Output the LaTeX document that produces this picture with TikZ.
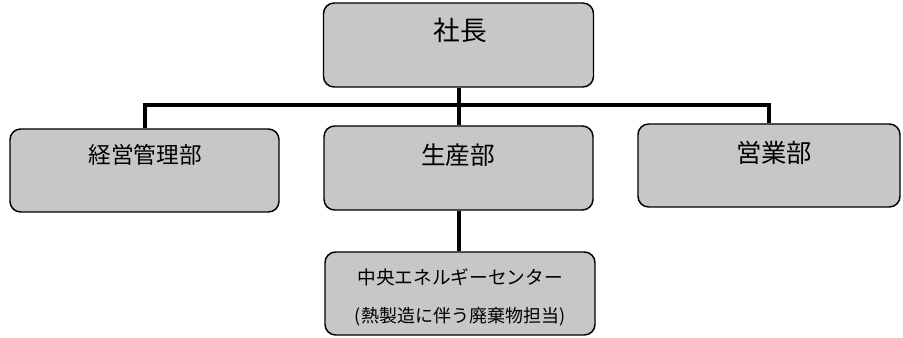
\documentclass[tikz,border=0pt]{standalone}
\usepackage{fontspec}
\newfontfamily\jpfont{Noto Sans CJK JP}
\begin{document}
\begin{tikzpicture}[x=0.75pt,y=0.75pt,yscale=-1,xscale=1,
  box/.style={draw=black,line width=1.1pt,fill=black!22,rounded corners=8pt,inner sep=0pt},
  link/.style={line width=3pt,line cap=butt},
  label/.style={font=\jpfont,text=black}]
\useasboundingbox (0,0) rectangle (903,338);

%Shape: Rounded Rectangle
\node (ceo) [box,minimum width=270*0.75pt,minimum height=84*0.75pt] at (458.5,45) {};
\node (keiei) [box,minimum width=269*0.75pt,minimum height=83*0.75pt] at (144.5,170.5) {};
\node (seisan) [box,minimum width=269*0.75pt,minimum height=84*0.75pt] at (458.5,168) {};
\node (eigyo) [box,minimum width=262*0.75pt,minimum height=83*0.75pt] at (769,165.5) {};
\node (chuo) [box,minimum width=270*0.75pt,minimum height=83*0.75pt] at (460,293.5) {};

%Straight Lines
\coordinate (bus) at (458.5,105);
\draw [link] (keiei.north) |- (bus) -| (eigyo.north);
\draw [link] (ceo.south) -- (seisan.north);
\draw [link] (seisan.south) -- (seisan.south |- chuo.north);

% Text Node
\node (ceo text) [label,font=\jpfont\fontsize{20}{24}\selectfont] at (460,30) {社長};
% Text Node
\node (keiei text) [label,font=\jpfont\fontsize{17}{20}\selectfont] at (145,155) {経営管理部};
% Text Node
\node (seisan text) [label,font=\jpfont\fontsize{18.5}{22}\selectfont] at (458,155) {生産部};
% Text Node
\node (eigyo text) [label,font=\jpfont\fontsize{19}{22}\selectfont] at (774,153) {営業部};
% Text Node
\node (chuo text) [label,font=\jpfont\fontsize{14}{17}\selectfont] at (460,277) {中央エネルギーセンター};
% Text Node
\node (chuo note) [label,font=\jpfont\fontsize{13.5}{16}\selectfont] at (460,317) {(熱製造に伴う廃棄物担当)};

\end{tikzpicture}
\end{document}
